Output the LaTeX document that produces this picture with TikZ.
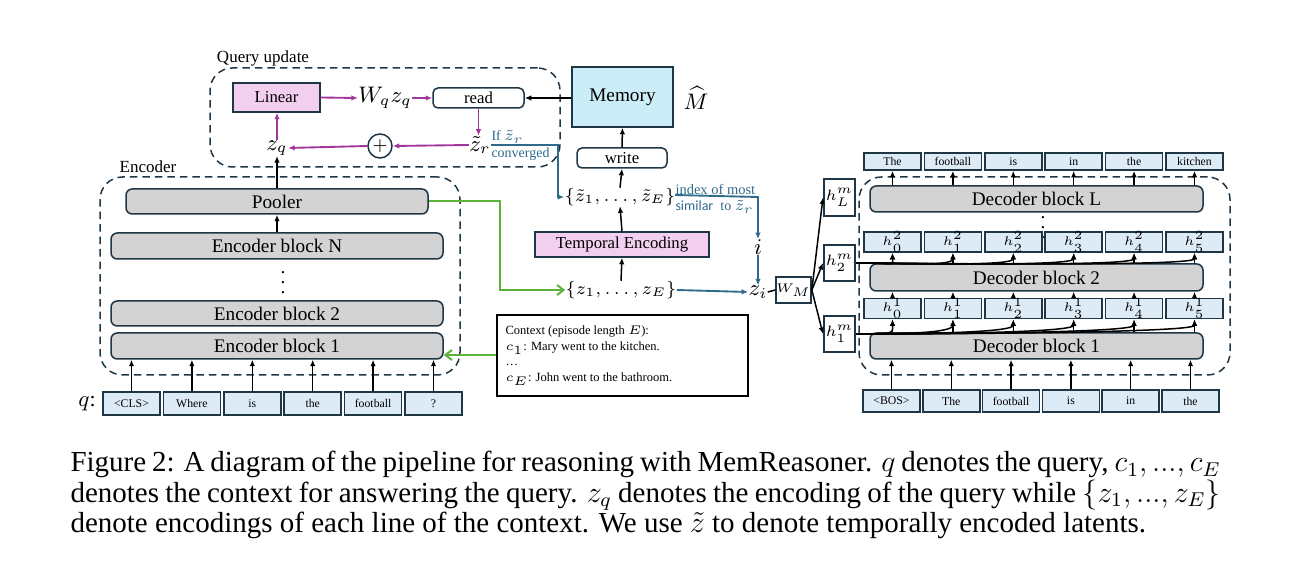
\documentclass[tikz,border=0pt]{standalone}
\usepackage{fontspec}
\setmainfont{Liberation Serif}
\newfontfamily\calfont{Carlito}
\usetikzlibrary{arrows.meta,calc}
\definecolor{dk}{HTML}{1F3645}
\definecolor{tokfill}{HTML}{DDEBF7}
\definecolor{pinkfill}{HTML}{F2CFEE}
\definecolor{memfill}{HTML}{CBEDF8}
\definecolor{gryfill}{HTML}{D3D3D3}
\definecolor{mag}{HTML}{A2369B}
\definecolor{blu}{HTML}{2E6B8C}
\definecolor{grn}{HTML}{5DB33A}
\tikzset{
  sz/.style 2 args={minimum width=#1*0.4pt, minimum height=#2*0.4pt},
  tok/.style={draw=dk, fill=tokfill, line width=0.7pt, inner sep=0pt, font=\fontsize{4.7}{5}\selectfont},
  hrow/.style={draw=dk, fill=tokfill, line width=0.7pt, inner sep=0pt, font=\fontsize{5.2}{6}\selectfont},
  blk/.style={draw=dk, fill=gryfill, rounded corners=2.5pt, line width=0.6pt, inner sep=0pt, font=\fontsize{7.7}{8}\selectfont},
  pinkbox/.style={draw=dk, fill=pinkfill, line width=0.6pt, inner sep=0pt, font=\fontsize{6.7}{7}\selectfont},
  rwbox/.style={draw=dk, fill=white, rounded corners=2pt, line width=0.6pt, inner sep=0pt, font=\fontsize{6.7}{7}\selectfont},
  hmbox/.style={draw=dk, fill=white, line width=0.8pt, inner sep=0pt, font=\fontsize{6.5}{7}\selectfont},
  dbox/.style={draw=dk, dash pattern=on 3pt off 2pt, rounded corners=9pt, line width=0.6pt, inner sep=0pt},
  arr/.style={-{Latex[length=2.6pt,width=2.2pt]}, line width=0.6pt},
  marr/.style={arr, draw=mag, color=mag, line width=0.75pt},
  barr/.style={arr, draw=blu, color=blu, line width=0.75pt},
  garr/.style={-{Straight Barb[length=2.6pt,width=4pt]}, line width=0.8pt, draw=grn},
  lbl/.style={inner sep=0pt, font=\fontsize{6.8}{8}\selectfont},
  mth/.style={inner sep=0pt, font=\fontsize{8.7}{10}\selectfont},
}
\begin{document}
\begin{tikzpicture}[x=0.4pt,y=-0.4pt]
\useasboundingbox (0,0) rectangle (1295,572);

% ---------- Query update ----------
\node[dbox, sz={350}{99}] (qbox) at (385,117.5) {};
\node[lbl] (qlbl) at (263,58) {Query update};
\node[pinkbox, sz={87}{29}] (lin) at (276.5,97.5) {Linear};
\node[mth] (wq) at (385,98) {$W_q z_q$};
\node[rwbox, sz={91}{20}] (read) at (478.5,98) {read};
\node[draw=dk, fill=memfill, line width=0.6pt, inner sep=0pt, font=\fontsize{7.7}{8}\selectfont, sz={101}{60}] (mem) at (622.5,97) {Memory};
\node[mth] (mhat) at (696,98) {$\widehat{M}$};
\node[mth] (zr) at (480,145) {$\tilde{z}_r$};
\node[draw=dk, circle, line width=0.6pt, minimum size=9.6pt, inner sep=0pt, font=\fontsize{7}{7}\selectfont] (op) at (380,146) {$+$};
\node[mth] (zq) at (277,148) {$z_q$};
\node[inner sep=0pt, anchor=west, text=blu, font=\fontsize{5.6}{6}\selectfont] (ifz) at (491,137) {If $\tilde{z}_r$};
\node[inner sep=0pt, anchor=west, text=blu, font=\fontsize{5.6}{6}\selectfont] (conv) at (491,154) {converged};
\coordinate (bc) at (558,145);

\draw[marr] (lin.east) -- (wq.west);
\draw[marr] (wq.east) -- (read.west);
\draw[arr] (mem.west |- read) -- (read.east);
\draw[marr] (read.south) -- (read.south |- zr.north);
\draw[marr] (zr.west) -- (op.east);
\draw[marr] (op.west) -- (zq.east);
\draw[marr] (zq.north) -- (zq |- lin.south);

% ---------- Encoder ----------
\node[dbox, sz={360}{198}] (ebox) at (280,276) {};
\node[lbl] (elbl) at (148,167) {Encoder};
\node[blk, sz={302}{25}] (pool) at (277,201.5) {Pooler};
\node[blk, sz={332}{26}] (ebN) at (277,246) {Encoder block N};
\node[inner sep=0pt, font=\fontsize{7.7}{8}\selectfont] (edots) at (283,275) {$\vdots$};
\node[blk, sz={332}{25}] (eb2) at (277,313.5) {Encoder block 2};
\node[blk, sz={332}{26}] (eb1) at (277,346) {Encoder block 1};
\node[mth] (qlab) at (87,404) {$q$:};
\foreach \t [count=\k] in {<CLS>,Where,is,the,football,?} {
  \node[tok, sz={57}{23}] (qt\k) at ({131.5+60.4*(\k-1)},403.5) {\t};
  \draw[arr] (qt\k.north) -- (qt\k.north |- eb1.south);
}
\draw[arr] (zq |- ebN.north) -- (zq |- pool.south);
\draw[arr] (zq |- pool.north) -- (zq.south);

% ---------- Middle ----------
\node[rwbox, sz={90}{20}] (wr) at (622,158) {write};
\node[inner sep=0pt, font=\fontsize{6.9}{9}\selectfont] (zt) at (620,197) {$\{\tilde{z}_1, \ldots, \tilde{z}_E\}$};
\node[pinkbox, sz={174}{25}] (te) at (622,244.5) {Temporal Encoding};
\node[inner sep=0pt, font=\fontsize{7.2}{9}\selectfont] (zs) at (621,290) {$\{z_1, \ldots, z_E\}$};
\draw[arr] (zs.north) -- (te.south);
\draw[arr] (te.north) -- (zt.south);
\draw[arr] (zt.north) -- (wr.south);
\draw[arr] (wr.north) -- (mem.south);
\draw[barr] (zr.east) -- (bc) -- (bc |- zt) -- (zt.west);

\coordinate (gc) at (500,290);
\draw[garr] (pool.east) -- (pool.east -| gc) -- (gc |- zs) -- (zs.west);

\node[draw=black, line width=0.6pt, inner sep=0pt, sz={251}{81}] (ctx) at (622.5,355.5) {};
\node[inner sep=0pt, anchor=west, align=left, font=\fontsize{5}{6.2}\selectfont] (ctxt) at (505,356)
  {Context (episode length $E$):\\$c_1$: Mary went to the kitchen.\\\ldots\\$c_E$: John went to the bathroom.};
\draw[garr] (ctx.west |- 0,355) -- (eb1.east |- 0,355);

\node[inner sep=0pt, anchor=south west, text=blu, font=\fontsize{5.8}{6}\selectfont] (idx) at (675,195) {index of most};
\node[inner sep=0pt, anchor=north west, text=blu, font=\fontsize{5.6}{6}\selectfont] (sim) at (675,200) {{\calfont similar}\ \ to $\tilde{z}_r$};
\node[mth] (iv) at (758,247) {$i$};
\node[mth] (zi) at (758,292) {$z_i$};
\coordinate (ic) at (758,197);
\draw[barr] (idx.south west) -- (ic) -- (iv.north);
\draw[barr] (iv.south) -- (zi.north);
\draw[barr] (zs.east) -- (zi.west);

\node[hmbox, font=\fontsize{5}{6}\selectfont, sz={27}{26}] (wm) at (793.5,290) {$W_M$};
\draw[line width=0.6pt] (zi.east) -- (wm.west);

% ---------- Decoder ----------
\node[hmbox, sz={31}{37}] (hmL) at (839.5,197.5) {$h_L^m$};
\node[hmbox, sz={31}{36}] (hm2) at (839.5,263) {$h_2^m$};
\node[hmbox, sz={31}{36}] (hm1) at (839.5,334) {$h_1^m$};
\draw[arr] (wm.east) -- (hmL.west);
\draw[arr] (wm.east) -- (hm2.west);
\draw[arr] (wm.east) -- (hm1.west);

\node[dbox, sz={371}{198}] (dbox) at (1044.5,276) {};
\node[blk, sz={333}{26}] (dbL) at (1036.5,199) {Decoder block L};
\node[inner sep=0pt, font=\fontsize{7.7}{8}\selectfont] (ddots) at (1043,220) {$\vdots$};
\node[blk, sz={333}{27}] (db2) at (1036.5,277.5) {Decoder block 2};
\node[blk, sz={333}{26}] (db1) at (1036.5,346) {Decoder block 1};

\foreach \t [count=\k] in {The,football,is,in,the,kitchen} {
  \node[tok, sz={57}{17}] (dt\k) at ({892.5+60.4*(\k-1)},161.5) {\t};
  \draw[arr] (dbL.north -| dt\k) -- (dt\k.south);
}
\foreach \t [count=\k] in {<BOS>,The,football,is,in,the} {
  \node[tok, sz={57}{22}] (bt\k) at ({891.5+59.8*(\k-1)},401) {\t};
  \draw[arr] (bt\k.north) -- (bt\k.north |- db1.south);
}
\foreach \k in {1,...,6} {
  \pgfmathtruncatemacro\j{\k-1}
  \node[hrow, sz={57}{19}] (ha\k) at ({892.5+60.4*(\k-1)},308.5) {$h^{1}_{\j}$};
  \node[hrow, sz={57}{18}] (hb\k) at ({892.5+60.4*(\k-1)},242) {$h^{2}_{\j}$};
  \draw[arr] (db1.north -| ha\k) -- (ha\k.south);
  \draw[arr] (ha\k.north) -- (ha\k.north |- db2.south);
  \draw[arr] (db2.north -| hb\k) -- (hb\k.south);
  \draw[arr] (hm1.east) .. controls ($(hm1.east)+(40,0)$) and ($(ha\k.south)+(0,14)$) .. (ha\k.south);
  \draw[arr] (hm2.east) .. controls ($(hm2.east)+(40,0)$) and ($(hb\k.south)+(0,14)$) .. (hb\k.south);
}

% ---------- Caption ----------
\node[anchor=north west, inner sep=0pt, align=left, font=\fontsize{11.6}{12.2}\selectfont] (cap) at (70,451)
 {\makebox[460pt][s]{Figure 2: A diagram of the pipeline for reasoning with MemReasoner. $q$ denotes the query, $c_1, ..., c_E$}\\
 \makebox[460pt][s]{denotes the context for answering the query. $z_q$ denotes the encoding of the query while $\{z_1, ..., z_E\}$}\\
 denote encodings of each line of the context. We use $\tilde{z}$ to denote temporally encoded latents.};
\end{tikzpicture}
\end{document}
